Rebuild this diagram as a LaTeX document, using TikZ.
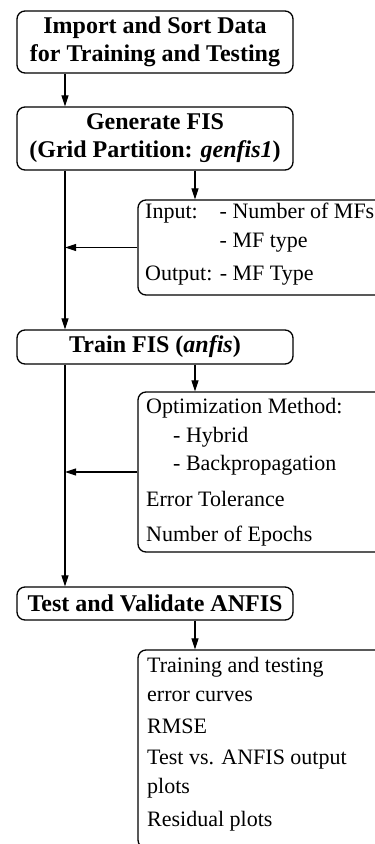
\documentclass[tikz,border=0pt]{standalone}
\usepackage{fontspec}
\setmainfont{Liberation Serif}
\usetikzlibrary{arrows.meta}
\begin{document}
\begin{tikzpicture}[x=1pt,y=-1pt,
  box/.style={draw, line width=1.3pt, rounded corners=8pt, inner sep=0pt},
  ttl/.style={font=\fontsize{24}{28}\selectfont\bfseries, align=center},
  txt/.style={font=\fontsize{22}{26}\selectfont, anchor=base west, inner sep=0pt},
  arr/.style={line width=1.1pt, -{Triangle[length=11pt,width=7pt]}}]
\useasboundingbox (0,0) rectangle (375,844);
\clip (0,0) rectangle (375,844);
% left column boxes
\node[box, ttl, minimum width=276pt, minimum height=62pt] (b1) at (155,42) {Import and Sort Data\\for Training and Testing};
\node[box, ttl, minimum width=276pt, minimum height=63pt] (b2) at (155,138.5) {Generate FIS\\(Grid Partition: \textit{genfis1})};
\node[box, ttl, minimum width=276pt, minimum height=34pt] (b3) at (155,347) {Train FIS (\textit{anfis})};
\node[box, ttl, minimum width=276pt, minimum height=33pt] (b4) at (155,603.5) {Test and Validate ANFIS};
% right column boxes
\node[box, minimum width=262pt, minimum height=95pt] (inb) at (269,247.5) {};
\node[box, minimum width=262pt, minimum height=160pt] (opt) at (269,472) {};
\node[box, minimum width=262pt, minimum height=198pt] (res) at (269,749) {};
% texts of right boxes
\node[txt] (i1) at (145,218) {Input:};
\node[txt] (i2) at (219.5,218) {- Number of MFs};
\node[txt] (i3) at (219.5,247) {- MF type};
\node[txt] (i4) at (145,280) {Output: - MF Type};
\node[txt] (o1) at (146,413) {Optimization Method:};
\node[txt] (o2) at (173,442) {- Hybrid};
\node[txt] (o3) at (173,470) {- Backpropagation};
\node[txt] (o4) at (146,506) {Error Tolerance};
\node[txt] (o5) at (146,541) {Number of Epochs};
\node[txt] (r1) at (147,672) {Training and testing};
\node[txt] (r2) at (147,701) {error curves};
\node[txt] (r3) at (147,733) {RMSE};
\node[txt] (r4) at (147,764) {Test vs. ANFIS output};
\node[txt] (r5) at (147,793) {plots};
\node[txt] (r6) at (147,826) {Residual plots};
% connectors
\coordinate (m) at (65,0);
\coordinate (s) at (195,0);
\draw[arr] (b1.south -| m) -- (b2.north -| m);
\draw[arr] (b2.south -| m) -- (b3.north -| m);
\draw[arr] (b2.south -| s) -- (inb.north -| s);
\draw[arr] (inb.west) -- (inb.west -| m);
\draw[arr] (b3.south -| m) -- (b4.north -| m);
\draw[arr] (b3.south -| s) -- (opt.north -| s);
\draw[arr] (opt.west) -- (opt.west -| m);
\draw[arr] (b4.south -| s) -- (res.north -| s);
\end{tikzpicture}
\end{document}
